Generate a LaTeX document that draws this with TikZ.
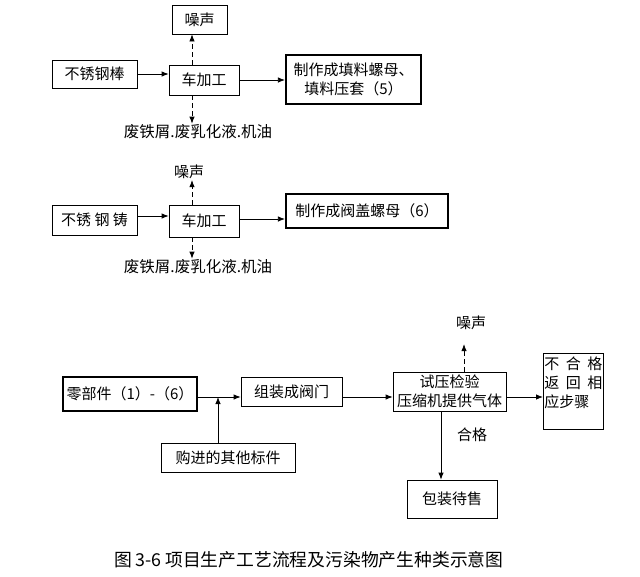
\documentclass[tikz,border=0pt]{standalone}
\usepackage{fontspec}
\setmainfont{Noto Sans CJK SC}
\usepackage{tikz}
\usetikzlibrary{arrows.meta,positioning}

\begin{document}
\begin{tikzpicture}[x=1pt, y=-1pt,
  box/.style={draw, line width=0.8pt, inner sep=2pt, align=center, font=\fontsize{15}{19}\selectfont},
  boldbox/.style={box, line width=2.2pt},
  lbl/.style={inner sep=1pt, font=\fontsize{15}{19}\selectfont},
  flow/.style={line width=0.8pt, -{Latex[length=7pt,width=5.5pt]}},
  emit/.style={flow, dash pattern=on 4.5pt off 3.5pt},
]
  \useasboundingbox (0,0) rectangle (640,576);

  % bar stock line
  \node[box, minimum width=55pt, minimum height=29pt] at (199.5,19.5) (noiseA) {噪声};
  \node[box, minimum width=85pt, minimum height=28pt] at (94.5,74) (rodA) {不锈钢棒};
  \node[box, minimum width=70pt, minimum height=30pt] at (204,80) (latheA) {车加工};
  \node[boldbox, minimum width=135pt, minimum height=49pt] at (353.5,79.5) (prodA)
    {制作成填料螺母、\\填料压套（5）};
  \node[lbl, font=\fontsize{15.5}{19}\selectfont] at (198,132) (wasteA) {废铁屑.废乳化液.机油};

  \draw[flow] (rodA.east) -- (rodA.east -| latheA.west);
  \draw[flow] (latheA.east) -- (latheA.east -| prodA.west);
  \draw[emit] ([xshift=-12pt]latheA.north) -- ([xshift=-12pt]latheA.north |- noiseA.south);
  \draw[emit] ([xshift=-12pt]latheA.south) -- ([xshift=-12pt]latheA.south |- wasteA.north);

  % casting line
  \node[lbl] at (189,172) (noiseB) {噪声};
  \node[box, minimum width=85pt, minimum height=30pt] at (94.5,220) (rodB) {不锈 钢 铸};
  \node[box, minimum width=70pt, minimum height=32pt] at (204,221) (latheB) {车加工};
  \node[boldbox, minimum width=162pt, minimum height=34pt] at (367,211) (prodB)
    {制作成阀盖螺母（6）};
  \node[lbl, font=\fontsize{15.5}{19}\selectfont] at (198,267) (wasteB) {废铁屑.废乳化液.机油};

  \draw[flow] ([yshift=4pt]rodB.east) -- ([yshift=4pt]rodB.east -| latheB.west);
  \draw[flow] ([yshift=2pt]latheB.east) -- ([yshift=2pt]latheB.east -| prodB.west);
  \draw[emit] ([xshift=-12pt]latheB.north) -- ([xshift=-12pt]latheB.north |- noiseB.south);
  \draw[emit] ([xshift=-12pt]latheB.south) -- ([xshift=-12pt]latheB.south |- wasteB.north);

  % assembly and test
  \coordinate (jn) at (218,397);
  \node[boldbox, minimum width=134pt, minimum height=34pt] at (130,394) (parts) {零部件（1）-（6）};
  \node[box, minimum width=101pt, minimum height=29pt] at (291.5,391.5) (assemble) {组装成阀门};
  \node[box, minimum width=134pt, minimum height=29pt] at (228,457.5) (bought) {购进的其他标件};
  \node[box, minimum width=113pt, minimum height=39pt] at (449.5,391.5) (test)
    {试压检验\\压缩机提供气体};
  \node[box, anchor=north west, align=left, inner xsep=1pt, inner ysep=3pt, text width=58pt,
    minimum height=74pt] at (543,353) (reject)
    {\makebox[58pt][s]{不\hfill 合\hfill 格}\\\makebox[58pt][s]{返\hfill 回\hfill 相}\\应步骤\\\mbox{}};
  \node[box, minimum width=90pt, minimum height=38pt] at (452,499) (pack) {包装待售};
  \node[lbl] at (471,323) (noiseC) {噪声};
  \node[lbl] at (472,435) (okay) {合格};
  \coordinate (noiseTip) at ([yshift=-13pt]noiseC.south);

  \draw[flow] (parts.east |- jn) -- (jn -| assemble.west);
  \draw[flow] (bought.north -| jn) -- (jn);
  \draw[flow] (assemble.east |- jn) -- (jn -| test.west);
  \draw[flow] (test.east |- jn) -- (jn -| reject.west);
  \draw[emit] ([xshift=14.5pt]test.north) -- ([xshift=14.5pt]test.north |- noiseTip);
  \draw[flow] ([xshift=-8.5pt]test.south) -- ([xshift=-8.5pt]test.south |- pack.north);

  \node[font=\fontsize{17.8}{20}\selectfont] at (309,560) (caption)
    {图\,3-6\ 项目生产工艺流程及污染物产生种类示意图};
\end{tikzpicture}
\end{document}
